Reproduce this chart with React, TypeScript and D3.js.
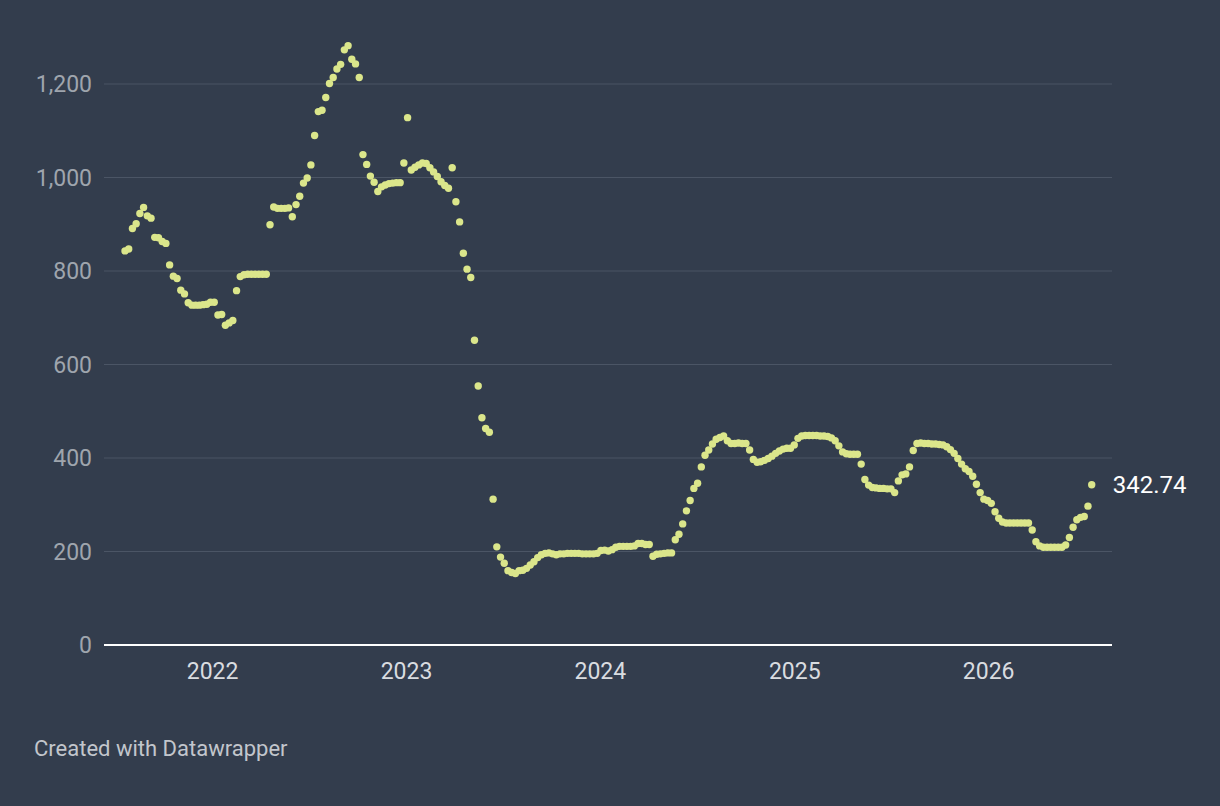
import React, { useRef, useEffect } from "react";
import * as d3 from "d3";

// weekly readings, first week starts here
const startDate = new Date(2021, 6, 20);

const values: number[] = [
  843, 847, 891, 901, 923, 936, 918, 913, 872, 871,
  863, 859, 813, 789, 784, 759, 751, 732, 727, 727,
  727, 728, 729, 733, 733, 706, 707, 684, 689, 694,
  758, 788, 792, 793, 793, 793, 793, 793, 793, 899,
  937, 934, 934, 934, 935, 916, 942, 960, 988, 999,
  1027, 1090, 1141, 1144, 1171, 1201, 1214, 1232, 1242, 1273,
  1282, 1253, 1243, 1214, 1049, 1028, 1003, 990, 970, 980,
  984, 987, 988, 989, 989, 1031, 1128, 1016, 1022, 1027,
  1031, 1030, 1021, 1012, 1002, 991, 983, 977, 1021, 948,
  905, 838, 804, 786, 652, 554, 486, 463, 455, 312,
  210, 188, 175, 159, 155, 153, 159, 160, 164, 171,
  178, 187, 193, 196, 197, 195, 193, 195, 195, 196,
  196, 196, 196, 195, 195, 195, 195, 196, 202, 203,
  201, 204, 209, 211, 211, 211, 211, 212, 217, 217,
  215, 215, 190, 194, 195, 196, 197, 197, 225, 237,
  259, 287, 309, 335, 346, 381, 406, 417, 430, 440,
  444, 447, 437, 431, 431, 432, 431, 431, 417, 397,
  391, 392, 395, 399, 404, 410, 415, 419, 421, 421,
  428, 442, 447, 448, 448, 448, 448, 447, 447, 446,
  443, 437, 426, 413, 409, 408, 408, 408, 387, 354,
  342, 337, 336, 335, 335, 334, 334, 326, 351, 364,
  366, 381, 416, 431, 432, 431, 431, 430, 430, 429,
  428, 424, 418, 410, 399, 387, 377, 371, 361, 344,
  326, 312, 309, 303, 285, 271, 263, 261, 261, 261,
  261, 261, 261, 261, 246, 221, 212, 209, 209, 209,
  209, 209, 209, 214, 230, 252, 268, 273, 275, 297,
  342.74,
];

const yTicks = [0, 200, 400, 600, 800, 1000, 1200];
const xTicks = [2022, 2023, 2024, 2025, 2026];

const Chart: React.FC = () => {
  const chartRef = useRef<SVGSVGElement>(null);

  useEffect(() => {
    if (!chartRef.current) return;
    const svg = d3.select(chartRef.current);
    svg.selectAll("*").remove();

    const width = 1220;
    const height = 806;
    const left = 104;
    const right = 1112;

    const data = values.map((v, i) => ({
      date: d3.timeWeek.offset(startDate, i),
      value: v,
    }));

    const x = d3.scaleTime()
      .domain([data[0].date, data[data.length - 1].date])
      .range([125, 1091.7]);

    const y = d3.scaleLinear()
      .domain([0, 1200])
      .range([645, 84]);

    svg.append("rect")
      .attr("width", width)
      .attr("height", height)
      .attr("fill", "#333d4d");

    // grid + y labels
    const grid = svg.append("g");
    grid.selectAll("line")
      .data(yTicks.filter((t) => t > 0))
      .join("line")
      .attr("x1", left)
      .attr("x2", right)
      .attr("y1", (d) => y(d))
      .attr("y2", (d) => y(d))
      .attr("stroke", "#4b5565")
      .attr("stroke-width", 1);

    grid.selectAll("text")
      .data(yTicks)
      .join("text")
      .attr("x", 92)
      .attr("y", (d) => y(d))
      .attr("dy", "0.35em")
      .attr("text-anchor", "end")
      .attr("fill", "#9fa5ad")
      .style("font-family", "Roboto, sans-serif")
      .style("font-size", "23px")
      .text((d) => d3.format(",")(d));

    svg.append("line")
      .attr("x1", left)
      .attr("x2", right)
      .attr("y1", y(0))
      .attr("y2", y(0))
      .attr("stroke", "#ffffff")
      .attr("stroke-width", 2);

    svg.append("g")
      .selectAll("text")
      .data(xTicks)
      .join("text")
      .attr("x", (d) => x(new Date(d, 0, 1)))
      .attr("y", 671)
      .attr("dy", "0.35em")
      .attr("text-anchor", "middle")
      .attr("fill", "#d9dce0")
      .style("font-family", "Roboto, sans-serif")
      .style("font-size", "23px")
      .text((d) => d);

    svg.append("g")
      .attr("fill", "#dbe68b")
      .selectAll("circle")
      .data(data)
      .join("circle")
      .attr("cx", (d) => x(d.date))
      .attr("cy", (d) => y(d.value))
      .attr("r", 3.7);

    const last = data[data.length - 1];
    svg.append("text")
      .attr("x", x(last.date) + 21)
      .attr("y", y(last.value))
      .attr("dy", "0.35em")
      .attr("fill", "#ffffff")
      .style("font-family", "Roboto, sans-serif")
      .style("font-size", "24px")
      .text(last.value.toFixed(2));

    svg.append("text")
      .attr("x", 34)
      .attr("y", 748)
      .attr("dy", "0.35em")
      .attr("fill", "#c2c6cc")
      .style("font-family", "Roboto, sans-serif")
      .style("font-size", "22px")
      .text("Created with Datawrapper");
  }, []);

  return (
    <svg
      ref={chartRef}
      width={1220}
      height={806}
      style={{ position: "absolute", left: 0, top: 0 }}
    />
  );
};

export default function App() {
  return <Chart />;
}
